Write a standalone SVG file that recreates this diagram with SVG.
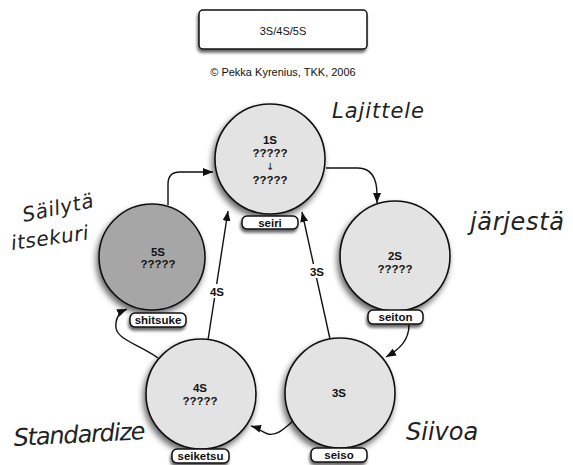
<svg xmlns="http://www.w3.org/2000/svg" width="573" height="465" viewBox="0 0 573 465">
<style>
.circ{stroke:#111;stroke-width:1.6;filter:url(#sh)}
.light{fill:#e3e3e3}
.dark{fill:#a6a6a6}
.lab{fill:#fff;stroke:#111;stroke-width:1.5;filter:url(#sh2)}
.t{font-family:"Liberation Sans",Arial,sans-serif;font-weight:bold;font-size:11.5px;fill:#111;text-anchor:middle}
.lt{font-family:"Liberation Sans",Arial,sans-serif;font-weight:bold;font-size:11.5px;fill:#111;text-anchor:middle}
.hand{font-family:"DejaVu Sans",sans-serif;font-style:italic;font-weight:normal;fill:#222}
.con{fill:none;stroke:#111;stroke-width:1.4;marker-end:url(#ah)}
</style>
<defs>
<filter id="sh" x="-30%" y="-30%" width="160%" height="160%">
<feGaussianBlur in="SourceAlpha" stdDeviation="3"/>
<feOffset dx="-2" dy="4" result="b"/>
<feComponentTransfer><feFuncA type="linear" slope="0.6"/></feComponentTransfer>
<feMerge><feMergeNode/><feMergeNode in="SourceGraphic"/></feMerge>
</filter>
<filter id="sh2" x="-30%" y="-60%" width="160%" height="220%">
<feGaussianBlur in="SourceAlpha" stdDeviation="1.5"/>
<feOffset dx="-1" dy="3" result="b"/>
<feComponentTransfer><feFuncA type="linear" slope="0.6"/></feComponentTransfer>
<feMerge><feMergeNode/><feMergeNode in="SourceGraphic"/></feMerge>
</filter>
<marker id="ah" markerUnits="userSpaceOnUse" markerWidth="10" markerHeight="8" refX="10" refY="4" orient="auto">
<path d="M0,0 L10,4 L0,8 z" fill="#111"/>
</marker>
</defs>
<rect width="573" height="465" fill="#fff"/>

<g id="title">
<rect x="199" y="10" width="168" height="39" rx="4" fill="#fff" stroke="#111" stroke-width="1.5" filter="url(#sh2)"/>
<text x="283" y="35" font-family="Liberation Sans, Arial, sans-serif" font-size="11" text-anchor="middle" fill="#111">3S/4S/5S</text>
<text x="283" y="76" font-family="Liberation Sans, Arial, sans-serif" font-size="11" text-anchor="middle" fill="#111">© Pekka Kyrenius, TKK, 2006</text>
</g>

<g id="connectors">
<path class="con" d="M326,168 H358 Q377,168 377,195 L377,203"/>
<path class="con" d="M409,325 C409,340 400,349 386,357"/>
<path class="con" d="M293,421 C283,430 276,436 268,434 C262,432 258,428 251,426"/>
<path class="con" d="M158,358 C140,345 118,340 116,328 C115,318 120,312 127,309"/>
<path class="con" d="M168,205 V184 Q168,172 180,172 H213"/>
<path class="con" d="M208,340 L228,211"/>
<path class="con" d="M330,339 L302,212"/>
<rect x="208" y="284" width="18" height="14" fill="#fff"/>
<text class="lt" x="217" y="296">4S</text>
<rect x="308" y="264" width="18" height="14" fill="#fff"/>
<text class="lt" x="317" y="276">3S</text>
</g>

<g id="n1">
<circle class="circ light" cx="270" cy="159" r="55"/>
<text class="t" x="270" y="144">1S</text>
<text class="t" x="270" y="157">?????</text>
<text x="270" y="170" font-family="DejaVu Sans, sans-serif" font-size="10" text-anchor="middle" fill="#111">↓</text>
<text class="t" x="270" y="184">?????</text>
<rect class="lab" x="242" y="216" width="56" height="13" rx="5"/>
<text class="t" x="270" y="226.5">seiri</text>
</g>

<g id="n2">
<circle class="circ light" cx="395" cy="256" r="55"/>
<text class="t" x="395" y="260">2S</text>
<text class="t" x="395" y="273">?????</text>
<rect class="lab" x="368" y="310" width="55" height="14" rx="5"/>
<text class="t" x="395.5" y="321">seiton</text>
</g>

<g id="n3">
<circle class="circ light" cx="340" cy="393" r="55"/>
<text class="t" x="339" y="397">3S</text>
<rect class="lab" x="311" y="448" width="56" height="14" rx="5"/>
<text class="t" x="339" y="459">seiso</text>
</g>

<g id="n4">
<circle class="circ light" cx="201" cy="394" r="55"/>
<text class="t" x="200" y="392">4S</text>
<text class="t" x="200" y="405">?????</text>
<rect class="lab" x="172" y="449" width="57" height="14" rx="5"/>
<text class="t" x="200.5" y="460">seiketsu</text>
</g>

<g id="n5">
<circle class="circ dark" cx="152" cy="257" r="53"/>
<text class="t" x="158" y="256">5S</text>
<text class="t" x="158" y="268">?????</text>
<rect class="lab" x="130" y="313" width="56" height="14" rx="5"/>
<text class="t" x="158" y="324">shitsuke</text>
</g>

<g id="notes">
<text class="hand" x="332" y="118" font-size="21" textLength="92">Lajittele</text>
<text class="hand" x="470" y="230" font-size="24" textLength="94">järjestä</text>
<text class="hand" x="24" y="222" font-size="20" textLength="72" transform="rotate(-12 24 222)">Säilytä</text>
<text class="hand" x="12" y="250" font-size="20" textLength="78" transform="rotate(-8 12 250)">itsekuri</text>
<text class="hand" x="14" y="446" font-size="24" textLength="132" transform="rotate(-3 14 446)">Standardize</text>
<text class="hand" x="406" y="440" font-size="24">Siivoa</text>
</g>
</svg>
